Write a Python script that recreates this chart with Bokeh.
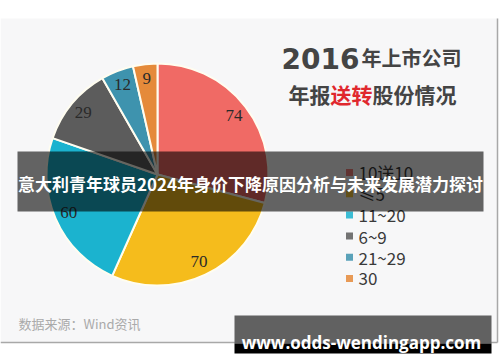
import math
from bokeh.plotting import figure
from bokeh.models import Range1d, ColumnDataSource
from bokeh.core.properties import value
from bokeh.embed import file_html
from bokeh.resources import INLINE

# ---- data ----
categories = ["10送10", "≤5", "11~20", "6~9", "21~29", "30"]
counts = [74, 70, 60, 29, 12, 9]
slice_colors = ["#F06A65", "#F5BC1C", "#1BB3CF", "#5C5C5C", "#3E93AE", "#E58A3A"]
title_year = "2016"
title_rest = "年上市公司"
subtitle_parts = ["年报", "送转", "股份情况"]
source_note = "数据来源：Wind资讯"
banner_text = "意大利青年球员2024年身价下降原因分析与未来发展潜力探讨"
watermark = "www.odds-wendingapp.com"

W, H = 500, 362
def Y(y):
    return H - y

p = figure(width=W, height=H, x_range=Range1d(0, W), y_range=Range1d(0, H),
           output_backend="svg", toolbar_location=None, min_border=0,
           x_axis_type=None, y_axis_type=None)
p.grid.visible = False
p.outline_line_color = None
p.background_fill_color = "white"
p.border_fill_color = "white"

# panel
p.quad(left=[0], right=[497], top=[Y(18)], bottom=[Y(342)],
       fill_color="#F7F7F8", line_color=None)
p.segment(x0=[497], y0=[Y(18)], x1=[497], y1=[Y(342)], line_color="#A8A8A8", line_width=1.5)
p.segment(x0=[0], y0=[Y(342)], x1=[497], y1=[Y(342)], line_color="#A8A8A8", line_width=1.5)

# pie
cx, cy, R = 157, Y(174), 111
total = sum(counts)
starts, ends, lx, ly = [], [], [], []
acc = 0.0
for v in counts:
    a0 = acc / total * 2 * math.pi
    acc += v
    a1 = acc / total * 2 * math.pi
    starts.append(math.pi / 2 - a0)
    ends.append(math.pi / 2 - a1)
    mid = (a0 + a1) / 2
    lx.append(cx + 0.87 * R * math.sin(mid))
    ly.append(cy + 0.87 * R * math.cos(mid))

src = ColumnDataSource(dict(start=starts, end=ends, color=slice_colors,
                            lx=lx, ly=ly, lab=[str(v) for v in counts]))
p.wedge(x=cx, y=cy, radius=R, start_angle="start", end_angle="end",
        direction="clock", fill_color="color", line_color="#FFFDF0",
        line_width=2, source=src)
p.text(x="lx", y="ly", text="lab", source=src, text_font=value("Liberation Serif"),
       text_font_size=value("17px"), text_color="#2A2A2A",
       text_align="center", text_baseline="middle")

# title
p.text(x=[281], y=[Y(58)], text=[title_year], text_font=value("DejaVu Sans"),
       text_font_size=value("28px"), text_font_style="bold", text_color="#444444",
       text_align="left", text_baseline="alphabetic")
p.text(x=[361], y=[Y(57)], text=[title_rest], text_font=value("Noto Sans CJK SC"),
       text_font_size=value("20px"), text_font_style="bold", text_color="#444444",
       text_align="left", text_baseline="middle")
sub_x = [288, 330, 372]
sub_c = ["#444444", "#E0282E", "#444444"]
p.text(x=sub_x, y=[Y(93)] * 3, text=subtitle_parts, text_font=value("Noto Sans CJK SC"),
       text_font_size=value("21px"), text_font_style="bold", text_color=sub_c,
       text_align="left", text_baseline="middle")

# legend
leg_y = [Y(172 + 21.2 * i) for i in range(len(categories))]
p.scatter(x=[349] * len(categories), y=leg_y, marker="square", size=7,
          fill_color=slice_colors, line_color=None, fill_alpha=0.85)
p.text(x=[358] * len(categories), y=leg_y, text=categories,
       text_font=value("Noto Sans CJK SC"), text_font_size=value("17px"),
       text_color="#3A3A3A", text_align="left", text_baseline="middle")

# source note
p.text(x=[18], y=[Y(323)], text=[source_note], text_font=value("Noto Sans CJK SC"),
       text_font_size=value("13px"), text_color="#AAAAAA",
       text_align="left", text_baseline="middle")

# banner overlay
p.quad(left=[17], right=[483], top=[Y(151)], bottom=[Y(211)],
       fill_color="black", fill_alpha=0.6, line_color=None)
p.text(x=[250], y=[Y(183)], text=[banner_text], text_font=value("Noto Sans CJK SC"),
       text_font_size=value("17px"), text_font_style="bold", text_color="white",
       text_align="center", text_baseline="middle")

# watermark
p.quad(left=[234], right=[491], top=[Y(315)], bottom=[Y(343)],
       fill_color="#616161", line_color=None)
p.quad(left=[234], right=[491], top=[Y(343)], bottom=[Y(353)],
       fill_color="black", line_color=None)
p.text(x=[361], y=[Y(342)], text=[watermark], text_font=value("Open Sans"),
       text_font_size=value("17px"), text_font_style="bold", text_color="white",
       text_align="center", text_baseline="alphabetic")

open("out.html", "w").write(file_html(p, INLINE))
